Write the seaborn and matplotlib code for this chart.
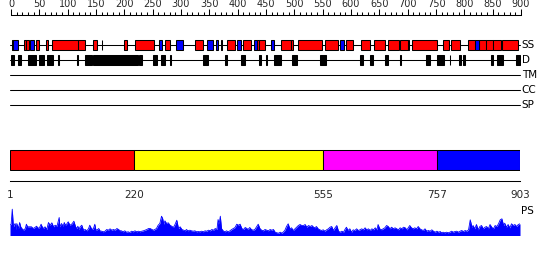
import numpy as np
import pandas as pd
import matplotlib
matplotlib.use("Agg")
import matplotlib.pyplot as plt
import seaborn as sns

# ---------------- data ----------------
protein_len = 903
ruler_major = list(range(0, 901, 50))
ruler_minor = list(range(0, 901, 10))

track_names = ["SS", "D", "TM", "CC", "SP"]

helix_start = [1, 23, 27, 44, 61, 73, 118, 145, 160, 199, 218, 272, 325, 371, 382, 410, 434, 438, 477, 494,
               506, 554, 592, 618, 641, 666, 687, 708, 763, 777, 807, 826, 838, 851, 866]
helix_end = [4, 27, 31, 50, 66, 118, 131, 151, 161, 205, 252, 281, 339, 372, 395, 423, 438, 449, 494, 497,
             548, 577, 603, 633, 660, 685, 700, 752, 773, 793, 819, 838, 851, 864, 895]

strand_start = [4, 34, 261, 292, 346, 362, 399, 428, 459, 581, 700, 819]
strand_end = [13, 41, 266, 304, 357, 366, 405, 434, 465, 588, 703, 826]

dis_start = [0, 13, 30, 49, 63, 83, 116, 131, 145, 196, 225, 250, 264, 280, 339, 378, 406, 438, 450, 464,
             495, 546, 616, 634, 660, 687, 732, 751, 774, 791, 797, 847, 858, 892]
dis_end = [5, 17, 44, 58, 74, 84, 118, 143, 195, 224, 231, 257, 272, 282, 348, 382, 413, 441, 451, 476,
           505, 555, 622, 639, 665, 688, 740, 764, 775, 794, 802, 850, 869, 899]

domain_start = [1, 220, 555, 757]
domain_end = [220, 555, 757, 903]
domain_colors = ["#FF0000", "#FFFF00", "#FF00FF", "#0000FF"]
domain_ticks = [1, 220, 555, 757, 903]

ps_res = [1, 3, 5, 7, 10, 12, 13, 16, 18, 20, 22, 25, 28, 30, 32, 36, 39, 42, 45, 48,
          51, 54, 56, 58, 60, 63, 66, 69, 72, 75, 78, 81, 84, 85, 88, 89, 92, 95, 97, 99,
          101, 104, 107, 110, 112, 114, 117, 119, 121, 123, 125, 128, 131, 134, 137, 140, 142, 145, 148, 151,
          153, 156, 158, 160, 163, 166, 169, 172, 175, 178, 181, 184, 187, 190, 193, 196, 198, 201, 204, 207,
          210, 213, 216, 219, 222, 225, 228, 231, 234, 237, 240, 243, 246, 249, 252, 255, 257, 260, 263, 266,
          269, 271, 273, 275, 278, 281, 284, 287, 290, 293, 296, 299, 302, 305, 308, 311, 313, 316, 319, 322,
          325, 328, 331, 334, 337, 340, 343, 346, 349, 352, 355, 358, 361, 364, 367, 369, 371, 373, 375, 378,
          381, 384, 387, 390, 393, 396, 399, 402, 405, 408, 411, 414, 417, 420, 422, 425, 428, 431, 434, 437,
          440, 443, 446, 449, 452, 455, 458, 461, 464, 467,
          470, 473, 476, 479, 482, 484, 487, 490, 493, 496, 499, 502, 505, 508, 511, 514, 517, 520, 523, 526,
          529, 532, 535, 538, 540, 543, 546, 549, 552, 555, 558, 561, 564, 567, 570, 573, 576, 579, 582, 585,
          588, 591, 593, 596, 599, 602, 605, 608, 611, 614, 617, 620, 623, 626, 629, 632, 635, 638, 641, 644,
          647, 650, 652, 655, 658, 661, 664, 667, 670, 673, 676, 679, 682, 685, 688, 691, 694, 697, 700, 703,
          706, 708, 711, 714, 717, 720, 723, 726, 729, 732, 735, 738, 741, 744, 747, 750, 753, 756, 759, 762,
          764, 767, 770, 773, 776, 779, 782, 785, 788, 791, 794, 797, 800, 803, 806, 809, 812, 815, 818, 820,
          823, 826, 829, 832, 835, 838, 841, 844, 847, 850, 853, 856, 859, 862, 865, 868, 871, 874, 876, 879,
          882, 885, 888, 891, 894, 897, 900, 903]
ps_val = [10.3, 11.3, 26.3, 8.7, 12, 6, 12, 7, 13, 8.7, 7, 5.3, 7, 11.3, 8.7, 8.7, 8.7, 7, 8, 9.3,
          7, 8.7, 11.3, 8.7, 7, 8.7, 6, 13, 10.3, 12.7, 8.7, 10.3, 9.3, 11.3, 18, 8.7, 12, 9.3, 13, 10.3,
          11.3, 13.7, 10.3, 11.3, 12.7, 14.3, 8.7, 7, 9.3, 6, 8.7, 10.3, 5.3, 6, 4.7, 7, 10.3, 7, 6, 11.3,
          5.3, 6, 7, 4.7, 4.3, 3.7, 4.3, 6, 5.3, 6.7, 5.3, 6, 5.3, 7, 6, 4.7, 4.7, 3.7, 4.7, 3.3,
          3.7, 3, 4.3, 3.7, 4.7, 3.7, 4.3, 3.7, 4.3, 4.7, 5.3, 6, 7, 7, 6, 5.3, 6, 7, 10.3, 12,
          19.3, 17, 11.3, 14.7, 12, 12.7, 10.3, 9.3, 8, 11.3, 15.3, 7, 8.7, 6, 5.3, 4.7, 6, 4.7, 5.3, 4.7,
          4.3, 4.7, 3.7, 4, 3.7, 4.3, 3.7, 4.7, 4.3, 5.3, 4.7, 6, 5.3, 7, 6, 16, 12, 19.3, 7, 4.7,
          3.7, 4.7, 3.7, 4.7, 6, 7, 8, 11.3, 10.3, 11.3, 7, 6, 8, 7, 6, 8, 6, 5.3, 6, 8.7,
          11.3, 7, 5.3, 4.7, 6, 5.3, 4.7, 6, 5.3, 6,
          3.3, 2.7, 2.3, 3.3, 2.3, 3.3, 5, 9, 11.7, 6.7, 7.7, 5, 6.7, 8.3, 10, 11, 10, 10, 11, 8.3,
          10, 9, 10, 8.3, 7.7, 9, 6.7, 5.7, 5, 5.7, 4.3, 5.7, 6.7, 8.3, 9, 5, 7.7, 10, 4.3, 3.3,
          4.3, 3.3, 5.7, 8.3, 5, 6.7, 3.3, 5.7, 5, 6.7, 5, 5.7, 6.7, 5.7, 7.7, 5.7, 6.7, 5, 6.7, 5.7,
          7.7, 5.7, 11, 6.7, 5.7, 6.7, 7.7, 10, 9, 6.7, 8.3, 6.7, 7.7, 6.7, 5.7, 7.7, 6.7, 8.3, 7.7, 5.7,
          8.3, 10, 7.7, 6.7, 7.7, 6.7, 9, 6.7, 5.7, 5, 6.7, 4.3, 5, 4.3, 5.7, 4.3, 3.3, 4.3, 3.3, 4,
          2.7, 3.3, 2.7, 3.3, 2.7, 3.3, 4.3, 3.3, 4, 4.3, 3.3, 4.3, 5, 4, 5, 4.3, 5.7, 15.7, 8.3, 10,
          6.7, 11, 5.7, 9, 10, 6.7, 8.3, 9, 6.7, 11, 8.3, 6.7, 10, 9, 11.7, 15.7, 16.7, 10, 12.3, 8.3,
          11, 7.7, 11.7, 10, 11, 9, 11, 11.7]

# ---------------- style ----------------
sns.set_style("white")
plt.rcParams['font.family'] = ['DejaVu Sans']

W, H = 550, 260
fig = plt.figure(figsize=(W / 100, H / 100), dpi=100)
fig.patch.set_facecolor("white")


def rect(x0, x1, y0, y1):
    return [x0 / W, 1 - y1 / H, (x1 - x0) / W, (y1 - y0) / H]


LW = 0.75

# ---------------- ruler ----------------
axr = fig.add_axes(rect(11, 521, 10, 15))
axr.set_facecolor("none")
axr.set_xlim(0, 900)
axr.set_ylim(0, 1)
for s in ["top", "left", "right"]:
    axr.spines[s].set_visible(False)
axr.spines["bottom"].set_linewidth(LW)
axr.spines["bottom"].set_color("black")
axr.set_xticks(ruler_major)
axr.set_xticks(ruler_minor, minor=True)
axr.set_xticklabels([str(v) for v in ruler_major])
axr.set_yticks([])
axr.tick_params(axis="x", which="both", direction="in", bottom=True, top=False,
                labelbottom=False, labeltop=True, pad=0.5, labelsize=7, width=LW, color="black")
axr.tick_params(axis="x", which="major", length=4)
axr.tick_params(axis="x", which="minor", length=2.3)

# ---------------- tracks ----------------
axt = fig.add_axes(rect(11, 521, 37.5, 112.5))
axt.set_xlim(0, 900)
axt.set_ylim(4.5, -0.5)
axt.axis("off")
for i, name in enumerate(track_names):
    axt.axhline(i, xmin=-0.002, xmax=0.998, color="black", lw=LW, zorder=1, clip_on=False)
    axt.text(1.0015, i, name, transform=axt.get_yaxis_transform(), va="center", ha="left",
             fontsize=7.5, color="black")

hs = np.array(helix_start)
he = np.array(helix_end)
ss_ = np.array(strand_start)
se = np.array(strand_end)
ds = np.array(dis_start)
de = np.array(dis_end)
axt.barh([0] * len(hs), he - hs, left=hs, height=0.62, color="#FF0000", edgecolor="black",
         linewidth=LW, zorder=2)
axt.barh([0] * len(ss_), se - ss_, left=ss_, height=0.62, color="#0000FF", edgecolor="black",
         linewidth=LW, zorder=2)
axt.barh([1] * len(ds), de - ds, left=ds, height=0.7, color="black", edgecolor="black",
         linewidth=LW, zorder=2)

# ---------------- domains ----------------
axd = fig.add_axes(rect(10, 520, 149, 171))
axd.set_xlim(1, protein_len)
axd.set_ylim(-0.55, 0.55)
axd.axis("off")
dst = np.array(domain_start)
den = np.array(domain_end)
axd.barh([0] * len(dst), den - dst, left=dst, height=1.0, color=domain_colors,
         edgecolor="black", linewidth=LW, zorder=2)

axdt = fig.add_axes(rect(10, 520, 179.5, 180.5))
axdt.set_facecolor("none")
axdt.set_xlim(1, protein_len)
for s in ["top", "left", "right"]:
    axdt.spines[s].set_visible(False)
axdt.spines["bottom"].set_linewidth(LW)
axdt.spines["bottom"].set_color("black")
axdt.set_yticks([])
axdt.set_xticks(domain_ticks)
axdt.set_xticklabels([str(v) for v in domain_ticks])
axdt.tick_params(axis="x", direction="out", length=3.5, width=LW, pad=3.5, labelsize=7.5,
                 color="black")

# ---------------- PS profile ----------------
axp = fig.add_axes(rect(10, 520, 205, 235.5))
axp.set_xlim(1, protein_len)
axp.set_ylim(0, 30.5)
axp.axis("off")
df = pd.DataFrame({"res": ps_res, "score": ps_val})
sns.lineplot(data=df, x="res", y="score", ax=axp, color="#0000FF", linewidth=0.6)
axp.fill_between(df["res"], 0, df["score"], color="#0000FF", linewidth=0)
axp.text(1.002, 24, "PS", transform=axp.get_yaxis_transform(), va="center", ha="left",
         fontsize=7.5, color="black")

fig.savefig("out.png", dpi=100, facecolor="white")
